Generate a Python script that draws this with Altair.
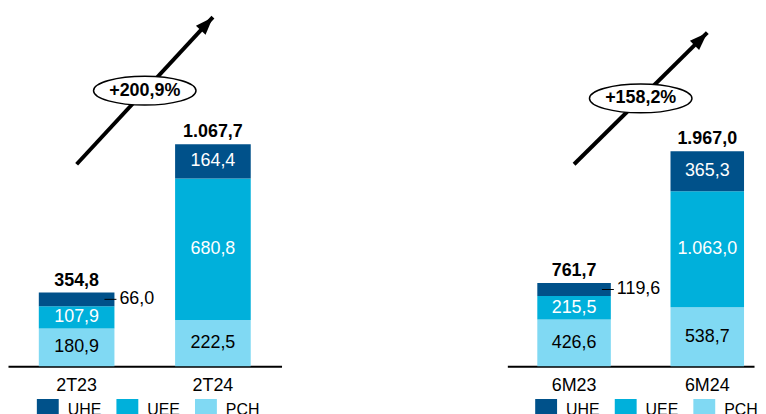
import altair as alt
import pandas as pd

FONT = "Liberation Sans"

# ---- data ----
SERIES = ["UHE", "UEE", "PCH"]
COLORS = ["#00518A", "#00B0DB", "#80D9F3"]
STACK_ORDER = {"PCH": 0, "UEE": 1, "UHE": 2}
TEXT_COLOR = {"UHE": "white", "UEE": "white", "PCH": "black"}

cats_q = ["2T23", "2T24"]
pch_q = [180.9, 222.5]
uee_q = [107.9, 680.8]
uhe_q = [66.0, 164.4]
growth_q = "+200,9%"

cats_s = ["6M23", "6M24"]
pch_s = [426.6, 538.7]
uee_s = [215.5, 1063.0]
uhe_s = [119.6, 365.3]
growth_s = "+158,2%"

ELLIPSE = "M-1,0A1,0.28,0,1,1,1,0A1,0.28,0,1,1,-1,0Z"
ARROWHEAD = "M0,0L0.62,1.7L-0.62,1.7Z"


def br(v):
    s = f"{v:,.1f}"
    return s.replace(",", "X").replace(".", ",").replace("X", ".")


def panel(cats, pch, uee, uhe, growth, ymax, width, pi, po, al,
          arrow_from, arrow_to, angle, mid_off, legend_x):
    rows = []
    for i, c in enumerate(cats):
        for s, vals in (("PCH", pch), ("UEE", uee), ("UHE", uhe)):
            v = vals[i]
            rows.append(dict(cat=c, series=s, value=v, ord=STACK_ORDER[s],
                             label=br(v), tcolor=TEXT_COLOR[s],
                             outside=bool(v / ymax < 0.06)))
    df = pd.DataFrame(rows)
    totals = [round(pch[i] + uee[i] + uhe[i], 1) for i in range(len(cats))]
    df_tot = pd.DataFrame(dict(cat=cats, total=totals, label=[br(t) for t in totals]))
    df_arrow = pd.DataFrame(dict(cat=cats, v=[arrow_from, arrow_to]))
    df_head = pd.DataFrame(dict(cat=[cats[1]], v=[arrow_to]))
    df_ell = pd.DataFrame(dict(cat=[cats[0]], v=[(arrow_from + arrow_to) / 2], label=[growth]))

    xenc = alt.X("cat:N", sort=cats,
                 scale=alt.Scale(paddingInner=pi, paddingOuter=po, align=al),
                 axis=alt.Axis(title=None, labelAngle=0, ticks=False, domainColor="black",
                               domainWidth=2, labelFontSize=18, labelColor="black",
                               labelPadding=10, labelFont=FONT))
    xs = alt.X("cat:N", sort=cats)
    yscale = alt.Scale(domain=[0, ymax], nice=False, zero=True)

    base = alt.Chart(df).transform_stack(
        stack="value", groupby=["cat"], as_=["y0", "y1"],
        sort=[alt.SortField("ord", order="ascending")]
    ).transform_calculate(mid="(datum.y0+datum.y1)/2")

    bars = base.mark_bar(strokeWidth=0).encode(
        x=xenc,
        y=alt.Y("y1:Q", scale=yscale, axis=None),
        y2="y0:Q",
        color=alt.Color("series:N", scale=alt.Scale(domain=SERIES, range=COLORS),
                        legend=alt.Legend(orient="none", legendX=legend_x, legendY=391,
                                          direction="horizontal", title=None,
                                          symbolType="square", symbolSize=484,
                                          symbolStrokeWidth=0, labelFontSize=16,
                                          labelFont=FONT, labelColor="black",
                                          labelOffset=9, columnPadding=15, padding=0)),
    )
    inside = base.transform_filter("!datum.outside").mark_text(
        fontSize=18, font=FONT, baseline="middle").encode(
        x=xs, y=alt.Y("mid:Q", scale=yscale), text="label:N",
        color=alt.Color("tcolor:N", scale=None))
    outside = base.transform_filter("datum.outside").mark_text(
        fontSize=18, font=FONT, baseline="middle", align="left", dx=43, color="black").encode(
        x=xs, y=alt.Y("mid:Q", scale=yscale), text="label:N")
    leader = base.transform_filter("datum.outside").mark_tick(
        size=12, thickness=1, xOffset=34, color="black", opacity=1).encode(
        x=xs, y=alt.Y("mid:Q", scale=yscale))
    tot = alt.Chart(df_tot).mark_text(fontSize=18, font=FONT, fontWeight="bold",
                                      baseline="alphabetic", dy=-7, color="black").encode(
        x=xs, y=alt.Y("total:Q", scale=yscale), text="label:N")
    arrow = alt.Chart(df_arrow).mark_line(strokeWidth=4, color="black", strokeCap="butt").encode(
        x=xs, y=alt.Y("v:Q", scale=yscale))
    head = alt.Chart(df_head).mark_point(shape=ARROWHEAD, size=449, filled=True, fill="black",
                                         strokeWidth=0, opacity=1, angle=angle).encode(
        x=xs, y=alt.Y("v:Q", scale=yscale))
    ell = alt.Chart(df_ell).mark_point(shape=ELLIPSE, size=10609, filled=True, fill="white",
                                       stroke="black", strokeWidth=1.5, opacity=1,
                                       xOffset=mid_off).encode(
        x=xs, y=alt.Y("v:Q", scale=yscale))
    ell_txt = alt.Chart(df_ell).mark_text(fontSize=18, font=FONT, fontWeight="bold",
                                          baseline="middle", dx=mid_off, color="black").encode(
        x=xs, y=alt.Y("v:Q", scale=yscale), text="label:N")

    return alt.layer(bars, inside, leader, outside, tot, arrow, head, ell, ell_txt).properties(
        width=width, height=358)


left = panel(cats_q, pch_q, uee_q, uhe_q, growth_q, 1714, 275, 0.445, 0.226, 0.5,
             972, 1680, 42.8, 68.5, 29)
right = panel(cats_s, pch_s, uee_s, uhe_s, growth_s, 3260, 248, 0.448, 0.15, 0.75,
              1849, 3053, 45.4, 67, 28)

chart = alt.hconcat(left, right, spacing=227).resolve_scale(
    x="independent", y="independent", color="independent"
).resolve_legend(color="independent").properties(padding=0).configure_view(
    stroke=None).configure_text(font=FONT)

chart.save("out.html", embed_options={"renderer": "svg", "actions": False})
